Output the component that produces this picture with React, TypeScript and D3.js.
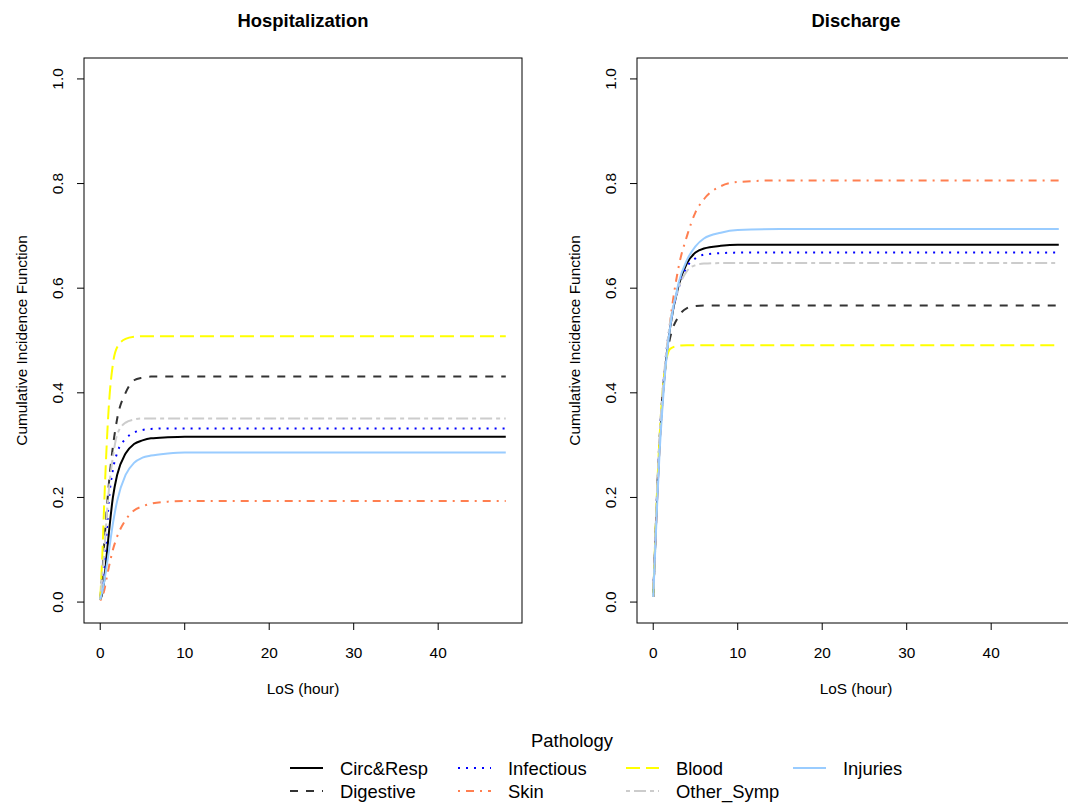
import React from 'react';
import * as d3 from 'd3';

// time grid (hours) the curves were read at
const times = [0, 0.25, 0.5, 0.75, 1, 1.5, 2, 3, 4, 5, 6, 8, 10, 15, 48];

const pathologies = ['Circ&Resp', 'Digestive', 'Infectious', 'Skin', 'Blood', 'Other_Symp', 'Injuries'];
const colors = ['#000000', '#333333', '#0000FF', '#FF7F50', '#FFFF00', '#CCCCCC', '#99CCFF'];
const dashes = ['none', '8,8', '2,6', '2,6,8,6', '14,6', '4,4,12,4', 'none'];

// Hospitalization CIF
const hospCirc = [0.005, 0.017, 0.045, 0.087, 0.128, 0.2, 0.243, 0.284, 0.302, 0.309, 0.313, 0.315, 0.316, 0.316, 0.316];
const hospDigestive = [0.005, 0.055, 0.118, 0.172, 0.222, 0.297, 0.35, 0.4, 0.424, 0.429, 0.431, 0.431, 0.431, 0.431, 0.431];
const hospInfectious = [0.005, 0.035, 0.072, 0.13, 0.19, 0.253, 0.285, 0.312, 0.324, 0.329, 0.331, 0.332, 0.332, 0.332, 0.332];
const hospSkin = [0.003, 0.01, 0.024, 0.045, 0.065, 0.1, 0.125, 0.157, 0.175, 0.183, 0.188, 0.192, 0.193, 0.193, 0.193];
const hospBlood = [0.005, 0.09, 0.2, 0.295, 0.37, 0.455, 0.487, 0.503, 0.507, 0.508, 0.508, 0.508, 0.508, 0.508, 0.508];
const hospOther = [0.005, 0.05, 0.1, 0.16, 0.21, 0.277, 0.32, 0.343, 0.349, 0.351, 0.351, 0.351, 0.351, 0.351, 0.351];
const hospInjuries = [0.005, 0.02, 0.042, 0.068, 0.094, 0.15, 0.193, 0.243, 0.266, 0.276, 0.28, 0.284, 0.286, 0.286, 0.286];

// Discharge CIF
const discCirc = [0.01, 0.115, 0.215, 0.3, 0.365, 0.46, 0.525, 0.605, 0.648, 0.668, 0.676, 0.681, 0.683, 0.683, 0.683];
const discDigestive = [0.01, 0.12, 0.225, 0.31, 0.375, 0.46, 0.505, 0.546, 0.562, 0.566, 0.567, 0.567, 0.567, 0.567, 0.567];
const discInfectious = [0.01, 0.12, 0.225, 0.31, 0.375, 0.47, 0.53, 0.6, 0.641, 0.657, 0.664, 0.667, 0.668, 0.668, 0.668];
const discSkin = [0.01, 0.11, 0.21, 0.295, 0.36, 0.46, 0.535, 0.64, 0.7, 0.745, 0.77, 0.795, 0.803, 0.806, 0.806];
const discBlood = [0.01, 0.125, 0.23, 0.315, 0.38, 0.457, 0.484, 0.49, 0.491, 0.491, 0.491, 0.491, 0.491, 0.491, 0.491];
const discOther = [0.01, 0.125, 0.23, 0.315, 0.38, 0.47, 0.535, 0.6, 0.633, 0.644, 0.647, 0.648, 0.648, 0.648, 0.648];
const discInjuries = [0.01, 0.105, 0.2, 0.285, 0.35, 0.455, 0.525, 0.61, 0.654, 0.68, 0.695, 0.706, 0.711, 0.713, 0.713];

const hospSeries = [hospCirc, hospDigestive, hospInfectious, hospSkin, hospBlood, hospOther, hospInjuries];
const discSeries = [discCirc, discDigestive, discInfectious, discSkin, discBlood, discOther, discInjuries];

const xTicks = [0, 10, 20, 30, 40];
const yTicks = [0, 0.2, 0.4, 0.6, 0.8, 1.0];

const FONT = 'Liberation Sans, Arial, Helvetica, sans-serif';

function Panel(props: { left: number; title: string; series: number[][] }) {
  const { left, title, series } = props;
  const top = 58, bottom = 623;
  const x = d3.scaleLinear().domain([-1.92, 49.92]).range([left, left + 438]);
  const y = d3.scaleLinear().domain([-0.04, 1.04]).range([bottom, top]);
  const line = d3.line<number>()
    .x((d, i) => x(times[i]))
    .y(d => y(d))
    .curve(d3.curveMonotoneX);
  const cx = left + 219;
  return (
    <g>
      <text x={cx} y={20} textAnchor="middle" dominantBaseline="central"
        fontWeight="bold" fontSize={18.4} fontFamily={FONT}>{title}</text>
      {series.map((s, i) => (
        <path key={i} d={line(s) || ''} fill="none" stroke={colors[i]} strokeWidth={2}
          strokeDasharray={dashes[i]} />
      ))}
      <rect x={left} y={top} width={438} height={bottom - top} fill="none" stroke="#000" strokeWidth={1} />
      {xTicks.map(t => (
        <g key={t}>
          <line x1={x(t)} x2={x(t)} y1={bottom} y2={bottom + 7} stroke="#000" />
          <text x={x(t)} y={bottom + 29} textAnchor="middle" dominantBaseline="central"
            fontSize={15.4} fontFamily={FONT}>{t}</text>
        </g>
      ))}
      {yTicks.map(t => (
        <g key={t}>
          <line x1={left - 7} x2={left} y1={y(t)} y2={y(t)} stroke="#000" />
          <text transform={`translate(${left - 27},${y(t)}) rotate(-90)`} textAnchor="middle"
            dominantBaseline="central" fontSize={15.4} fontFamily={FONT}>{t.toFixed(1)}</text>
        </g>
      ))}
      <text x={cx} y={688} textAnchor="middle" dominantBaseline="central"
        fontSize={15.4} fontFamily={FONT}>LoS (hour)</text>
      <text transform={`translate(${left - 63},${(top + bottom) / 2}) rotate(-90)`} textAnchor="middle"
        dominantBaseline="central" fontSize={15.4} fontFamily={FONT}>Cumulative Incidence Function</text>
    </g>
  );
}

function Legend() {
  const colX = [290, 458, 626, 793];
  const rowY = [768, 791];
  return (
    <g>
      <text x={572} y={740} textAnchor="middle" dominantBaseline="central"
        fontSize={18.4} fontFamily={FONT}>Pathology</text>
      {pathologies.map((p, i) => {
        const c = Math.floor(i / 2), r = i % 2;
        return (
          <g key={p}>
            <line x1={colX[c]} x2={colX[c] + 33} y1={rowY[r]} y2={rowY[r]} stroke={colors[i]}
              strokeWidth={2} strokeDasharray={dashes[i]} />
            <text x={colX[c] + 50} y={rowY[r]} dominantBaseline="central"
              fontSize={18.4} fontFamily={FONT}>{p}</text>
          </g>
        );
      })}
    </g>
  );
}

export default function App() {
  return (
    <svg width={1068} height={805} style={{ position: 'absolute', left: 0, top: 0, background: '#fff' }}>
      <Panel left={84} title="Hospitalization" series={hospSeries} />
      <Panel left={637} title="Discharge" series={discSeries} />
      <Legend />
    </svg>
  );
}
